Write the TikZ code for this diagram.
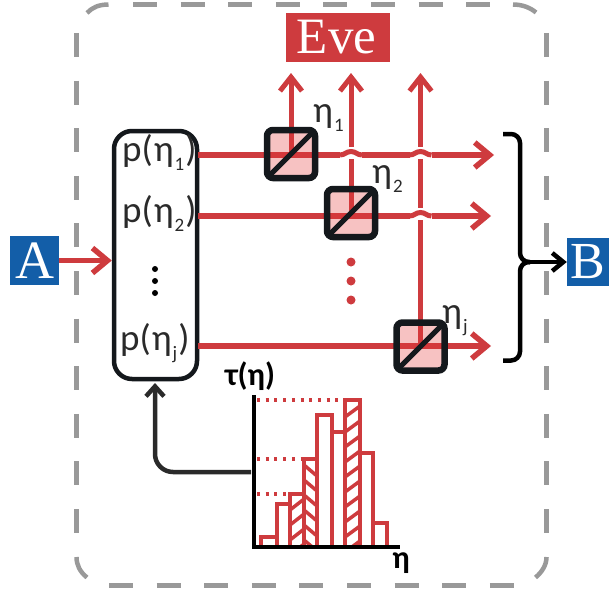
\documentclass[tikz,border=0pt]{standalone}
\usepackage{fontspec}
\setmainfont{Liberation Serif}
\newfontfamily\labelfont{Carlito}
\usetikzlibrary{arrows.meta}
\definecolor{partyblue}{HTML}{135EA8}
\definecolor{beamred}{HTML}{CE3B3E}
\definecolor{splitpink}{HTML}{E43435}
\definecolor{framegray}{HTML}{999999}
\definecolor{inkblack}{HTML}{14181C}
\definecolor{labelgray}{HTML}{2A2A2A}
\newcommand{\effsub}[1]{η\kern1pt\raisebox{-9pt}{\fontsize{19}{19}\selectfont #1}}

\begin{document}
\begin{tikzpicture}[
    x=1pt, y=-1pt,
    party/.style={
        rectangle,
        fill=partyblue,
        text=white,
        inner sep=0pt,
        font=\fontsize{52}{52}\selectfont
    },
    prob/.style={
        anchor=base west,
        inner sep=0pt,
        text=labelgray,
        font=\labelfont\fontsize{37}{37}\selectfont
    },
    axislabel/.style={
        inner sep=0pt,
        text=black,
        font=\labelfont\bfseries\fontsize{32}{32}\selectfont
    },
    splitter/.style={
        rectangle,
        rounded corners=6pt,
        draw=inkblack,
        line width=6.5pt,
        fill=splitpink,
        fill opacity=0.3,
        minimum size=48pt,
        inner sep=0pt
    },
    diag/.style={draw=inkblack, line width=5pt, shorten <=5pt, shorten >=5pt},
    frameline/.style={draw=framegray, line width=4.5pt},
    framedash/.style={frameline, dash pattern=on 24pt off 23.6pt},
    beam/.style={draw=beamred, line width=5.5pt},
    beamhead/.style={-{Straight Barb[length=15pt, width=25pt]}},
    beamout/.style={draw=beamred, line width=5pt, -{Straight Barb[length=14pt, width=22pt]}},
    bar/.style={draw=beamred, line width=4pt},
    hatch/.style={draw=beamred, line width=3.5pt},
    guide/.style={draw=beamred, line width=4pt, dash pattern=on 3pt off 5.7pt},
    link/.style={draw=labelgray, line width=4.5pt, rounded corners=18pt, -{Straight Barb[length=10pt, width=18pt]}},
    bracket/.style={draw=black, line width=4.5pt, rounded corners=9pt}
]
\useasboundingbox (0,0) rectangle (609,594);

% Outer frame
\draw[framedash] (133,4.5) -- (490,4.5);
\draw[framedash] (109,585.5) -- (514,585.5);
\draw[framedash] (76.5,33) -- (76.5,533);
\draw[framedash] (546.5,33) -- (546.5,533);
\draw[frameline] (108.5,4.5) .. controls (99,4.5) and (92,7.5) .. (87,13);
\draw[frameline] (513,4.5) .. controls (522,4.5) and (530,7.5) .. (536,12.5);
\draw[frameline] (76.5,557) .. controls (76.5,565) and (80,572) .. (87,577.5);
\draw[frameline] (546.5,557) .. controls (546.5,565) and (542,572) .. (535.5,577.5);

% Parties
\node[party, minimum width=49pt, minimum height=49pt, font=\fontsize{54}{54}\selectfont] (alice) at (34.5,260.5) {A};
\node[party, minimum width=42pt, minimum height=48pt] (bob) at (588,262) {B};
\node[party, fill=beamred, minimum width=104pt, minimum height=49pt,
      font=\fontsize{51}{51}\selectfont] (eve) at (338,37.5) {\kern-3pt Eve};

% Probability box
\node[draw=inkblack, line width=4.5pt, rounded corners=18pt, minimum width=83pt,
      minimum height=248pt, inner sep=0pt] (pbox) at (155.5,255) {};
\node[prob] (p1) at (122,161) {p(\kern1pt\effsub{1}\kern1pt)};
\node[prob] (p2) at (122,222) {p(\kern1pt\effsub{2}\kern1pt)};
\node[prob] (pj) at (120,350) {p(\kern1pt\effsub{j}\kern1pt)};
\foreach \yc in {269,281,293}
    \fill[black] (155,\yc) circle (3pt);

% Beam ends
\coordinate (row1) at (198,155);
\coordinate (row2) at (198,216);
\coordinate (rowj) at (198,346);
\coordinate (end1) at (494,155);
\coordinate (end2) at (491,216);
\coordinate (endj) at (491,346);
\coordinate (top1) at (291,73);
\coordinate (top2) at (351,73);
\coordinate (topj) at (420.5,73);

% Beams
\coordinate (c1) at (291,154);
\coordinate (c2) at (351,216);
\coordinate (cj) at (420.5,346);
\draw[beamout] (c1) -- (top1);
\draw[beamout] (c2) -- (top2);
\draw[beamout] (cj) -- (topj);
\draw[beam, beamhead] (row1) -- (end1);
\draw[beam, beamhead] (row2) -- (end2);
\draw[beam, beamhead] (rowj) -- (endj);
\draw[beam, beamhead] (alice) -- (pbox.west |- alice);

% Humps at the crossings
\foreach \xc/\yc in {351/155, 420.5/155, 420.5/216} {
    \fill[white] ({\xc-11},{\yc-8}) rectangle ({\xc+11},{\yc+4});
    \draw[beam, line width=5pt] ({\xc-11},\yc) .. controls ({\xc-6},\yc) and ({\xc-5},{\yc-3.5}) .. (\xc,{\yc-3.5})
        .. controls ({\xc+5},{\yc-3.5}) and ({\xc+6},\yc) .. ({\xc+11},\yc);
}

% Beam splitters
\node[splitter] (bs1) at (291,154) {};
\node[splitter] (bs2) at (351,213) {};
\node[splitter] (bsj) at (420.5,346.5) {};
\draw[diag] (bs1.south west) -- (bs1.north east);
\draw[diag] (bs2.south west) -- (bs2.north east);
\draw[diag] (bsj.south west) -- (bsj.north east);
\node[prob] (eff1) at (313,122) {\effsub{1}};
\node[prob] (eff2) at (372,183) {\effsub{2}};
\node[prob] (effj) at (442,323) {\effsub{j}};
\foreach \yc in {262,281,300}
    \fill[beamred] (351,\yc) circle (4.5pt);

% Bracket to B
\coordinate (brtop) at (503,134);
\coordinate (brbot) at (503,360.5);
\coordinate (brtip) at (530,262);
\draw[bracket] (brtop) -- (520,134) -- (520,262) -- (brtip);
\draw[bracket] (brtip) -- (520,262) -- (520,360.5) -- (brbot);
\draw[draw=black, line width=4.5pt, -{Straight Barb[length=11pt, width=18pt]}] (brtip) -- (bob.west |- brtip);

% Histogram
\foreach \xa/\xb/\yt in {261/277/537, 277/290/504, 290/304/494, 304/317/459, 317/332/415, 332/345/432, 345/360/400, 360/373/453, 373/387/523}
    \draw[bar] (\xa,547) -- (\xa,\yt) -- (\xb,\yt) -- (\xb,547);
% hatching
\begin{scope}
    \clip (290,494) rectangle (304,547);
    \foreach \yc in {510,525,...,565}
        \draw[hatch] (290,\yc) -- (304,{\yc-11});
\end{scope}
\begin{scope}
    \clip (304,459) rectangle (317,547);
    \foreach \yc in {465,480,...,550}
        \draw[hatch] (304,\yc) -- (317,{\yc+11});
\end{scope}
\begin{scope}
    \clip (345,400) rectangle (360,547);
    \foreach \yc in {417,432,...,565}
        \draw[hatch] (345,\yc) -- (360,{\yc-11});
\end{scope}
\coordinate (g1) at (257,400);
\coordinate (g2) at (257,459);
\coordinate (g3) at (257,494);
\draw[guide] (g1) -- (345,400);
\draw[guide] (g2) -- (304,459);
\draw[guide] (g3) -- (290,494);

% Axes
\coordinate (origin) at (254,547);
\draw[draw=black, line width=4.5pt] (254,395) -- (origin) -- (400,547);
\node[axislabel] (tau) at (250,376) {τ(η)};
\node[axislabel] (etaaxis) at (401,563) {η};

% Feedback
\coordinate (histout) at (251,472);
\draw[link] (histout) -- (155,472) -- (155,383);

\end{tikzpicture}
\end{document}
